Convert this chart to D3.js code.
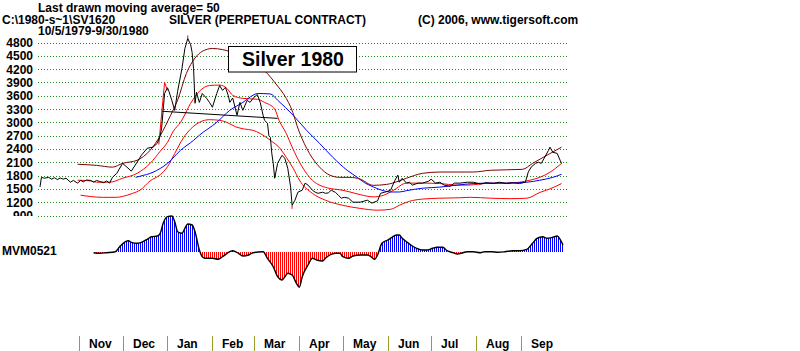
<!DOCTYPE html>
<html>
<head>
<meta charset="utf-8">
<script src="https://cdn.jsdelivr.net/npm/d3@7"></script>
<style>
  html, body { margin: 0; padding: 0; background: #fff; }
  svg { display: block; font-family: "Liberation Sans", Arial, sans-serif; font-weight: bold; }
</style>
</head>
<body>
<div id="chart"></div>
<script>
const startDate = new Date(1979, 9, 5)
const endDate = new Date(1980, 8, 30)

// all series: [calendar days since 10/5/1979, value]
const price = [[0,1545],[1,1760],[3,1740],[6,1760],[8,1720],[10,1750],[12,1710],[14,1745],[16,1720],[18,1740],
  [21,1650],[23,1690],[26,1630],[28,1690],[30,1660],[32,1700],[35,1690],[37,1650],[39,1690],[41,1670],[44,1640],
  [46,1680],[48,1630],[50,1760],[53,1850],[57,2075],[60,1990],[63,1900],[67,2100],[70,2260],[74,2415],[76,2430],
  [78,2440],[81,2530],[83,2700],[84,2890],[85,3270],[86,3650],[88,3780],[89,3700],[91,3495],[93,3270],[95,3700],
  [98,4215],[100,4665],[102,4890],[104,4750],[105,4575],[106,4215],[107,3430],[108,3675],[110,3450],[112,3650],
  [115,3540],[117,3450],[119,3340],[122,3650],[124,3830],[126,3720],[128,3790],[130,3600],[131,3450],[133,3550],
  [136,3160],[138,3450],[140,3270],[143,3495],[145,3450],[147,3540],[150,3630],[152,3450],[154,3160],[155,3045],
  [157,2980],[158,2700],[159,2660],[160,2300],[161,2075],[162,1740],[164,2075],[167,2255],[169,2190],[171,1965],
  [173,1540],[174,1130],[176,1245],[178,1425],[181,1470],[183,1630],[185,1585],[188,1470],[190,1425],[192,1400],
  [195,1425],[197,1400],[199,1410],[201,1470],[204,1420],[206,1355],[208,1290],[210,1310],[213,1290],[216,1200],
  [221,1200],[226,1245],[229,1180],[233,1230],[235,1400],[238,1425],[242,1470],[245,1695],[247,1810],[248,1650],
  [250,1740],[253,1630],[255,1650],[257,1585],[261,1630],[264,1630],[268,1670],[270,1720],[273,1630],[276,1650],
  [279,1585],[283,1560],[286,1630],[290,1630],[295,1650],[299,1650],[304,1610],[308,1640],[313,1620],[317,1650],
  [322,1620],[326,1640],[331,1620],[335,1650],[337,1875],[339,1990],[342,2075],[344,2100],[346,2075],[348,2190],
  [351,2370],[352,2440],[354,2325],[357,2300],[359,2145],[360,2075]]

const ma21 = [[26,1695],[35,1680],[39,1650],[48,1650],[57,1740],[67,1850],[76,2075],[83,2350],[88,2550],[92,2800],
  [97,3000],[104,3430],[110,3700],[117,3830],[124,3840],[129,3765],[133,3610],[140,3540],[150,3520],[155,3450],
  [162,3300],[165,3045],[170,2750],[174,2445],[181,1995],[188,1695],[200,1510],[207,1480],[214,1430],[221,1370],
  [230,1320],[237,1355],[244,1470],[253,1630],[264,1630],[276,1620],[288,1585],[295,1585],[311,1630],[322,1630],
  [331,1650],[338,1695],[345,1760],[352,1875],[360,2075]]

const upperBand = [[26,2055],[39,2030],[50,1990],[57,2075],[67,2145],[76,2370],[83,2700],[90,3150],[95,3500],
  [101,4100],[107,4450],[112,4600],[119,4665],[126,4640],[138,4500],[148,4300],[157,4100],[162,3900],[170,3540],
  [173,3350],[179,2780],[186,2300],[193,1990],[200,1810],[207,1760],[214,1760],[221,1720],[230,1580],[239,1600],
  [248,1680],[253,1740],[264,1850],[276,1880],[288,1880],[299,1880],[311,1920],[333,1940],[340,2075],[350,2260],
  [360,2440]]

const lowerBand = [[28,1358],[43,1310],[53,1310],[57,1330],[64,1400],[69,1470],[76,1680],[83,1820],[88,2000],
  [93,2300],[99,2650],[104,2850],[110,3000],[117,3060],[124,3045],[129,3000],[135,2900],[141,2850],[147,2820],
  [152,2750],[159,2595],[166,2400],[170,2210],[175,1950],[179,1700],[188,1400],[197,1245],[209,1130],[221,1060],
  [233,1020],[242,1040],[248,1130],[255,1220],[264,1270],[276,1290],[290,1300],[297,1310],[311,1290],[325,1280],
  [336,1290],[345,1420],[352,1500],[360,1620]]

const ma50 = [[66,1760],[69,1785],[78,1875],[88,2075],[97,2370],[106,2595],[110,2710],[122,3000],[131,3270],
  [140,3450],[147,3610],[150,3650],[159,3640],[164,3500],[175,3150],[184,2820],[193,2525],[202,2215],[212,1920],
  [219,1760],[224,1640],[230,1545],[235,1480],[242,1430],[248,1430],[253,1460],[264,1515],[276,1540],[288,1585],
  [299,1620],[311,1630],[322,1630],[336,1650],[345,1695],[354,1760],[360,1830]]

const trendLine = [[84,3250],[164,3090]]

// daily high / low showing past the close
const wicks = [
  [[82,2500],[86,3900],[88,3720]],
  [[102,4890],[102,4960]],
  [[174,1130],[174,1050]]
]

const mvm = [[37,-0.7],[41,-1.3],[46,-0.7],[52,0.3],[55,5.3],[59,10.3],[61,11.3],[63,9.7],[67,8.7],[70,9.7],
  [74,12.7],[77,15.3],[81,16],[83,18.7],[85,28.7],[88,35.3],[91,36],[93,30.3],[95,20.3],[98,18.7],[100,23.7],
  [102,28],[105,27],[107,20.3],[110,2],[112,-4.7],[114,-6.3],[119,-6.3],[123,-7.3],[126,-4.7],[131,0.3],[133,1.3],
  [137,-1.3],[140,-4],[144,-3],[147,-0.7],[154,0.3],[157,-6.3],[161,-14.7],[164,-24.7],[167,-28],[169,-24.7],
  [171,-21.3],[174,-23],[177,-31.3],[179,-35.3],[181,-24.7],[185,-13],[188,-6.3],[191,-8],[195,-9],[197,-6.3],
  [200,-3],[204,-1.3],[207,-1.3],[209,-4.7],[213,-6.3],[216,-4],[221,-3],[226,-3],[229,-5.3],[231,-7.3],[233,-3],
  [236,8.7],[240,12],[243,14.7],[246,17],[248,17],[250,13.7],[253,10.3],[256,7],[260,3.7],[264,2],[267,2],
  [271,3.7],[274,4.7],[278,4.7],[281,1.3],[285,-0.7],[288,-2],[292,-0.7],[295,0.3],[299,0.3],[304,-0.7],[307,0.3],
  [312,0.3],[316,-0.3],[321,0.3],[326,1.3],[331,1.3],[336,2.7],[340,8.7],[343,13.7],[347,15.3],[350,13.7],
  [354,14.7],[357,16],[359,12.7],[361,7]]

const yTicks = [4800, 4500, 4200, 3900, 3600, 3300, 3000, 2700, 2400, 2100, 1800, 1500, 1200, 900]
const monthLabels = ['Nov', 'Dec', 'Jan', 'Feb', 'Mar', 'Apr', 'May', 'Jun', 'Jul', 'Aug', 'Sep']

const width = 800
const height = 351

const svg = d3.select('#chart').append('svg')
  .attr('width', width)
  .attr('height', height)

const day = (d) => d3.timeDay.offset(startDate, d)
const x = d3.scaleTime().domain([startDate, endDate]).range([40, 563])
const y = d3.scaleLinear().domain([900, 4800]).range([215.5, 42.5])
const yM = d3.scaleLinear().domain([-40, 40]).range([292, 212])

const defs = svg.append('defs')
defs.append('clipPath').attr('id', 'label-clip')
  .append('rect').attr('x', 0).attr('y', 0).attr('width', 40).attr('height', 216)

// header texts
const header = svg.append('g').style('font-size', '12px')
header.append('text').attr('x', 38).attr('y', 12).text('Last drawn moving average= 50')
header.append('text').attr('x', 2).attr('y', 24).text('C:\\1980-s~1\\SV1620')
header.append('text').attr('x', 169).attr('y', 24).text('SILVER (PERPETUAL CONTRACT)')
header.append('text').attr('x', 418).attr('y', 24).text('(C) 2006, www.tigersoft.com')
header.append('text').attr('x', 38).attr('y', 34.5).text('10/5/1979-9/30/1980')

// grid lines
svg.append('g').selectAll('line')
  .data(yTicks)
  .join('line')
  .attr('x1', 38).attr('x2', 567)
  .attr('y1', (d) => Math.round(y(d)) + 0.5)
  .attr('y2', (d) => Math.round(y(d)) + 0.5)
  .attr('stroke', '#1a8a1a')
  .attr('stroke-dasharray', '1,2')

// y labels (the lowest one gets cut off)
svg.append('g')
  .attr('clip-path', 'url(#label-clip)')
  .selectAll('text')
  .data(yTicks)
  .join('text')
  .attr('x', 33)
  .attr('y', (d) => y(d) + 4.5)
  .attr('text-anchor', 'end')
  .style('font-size', '12px')
  .text((d) => d)

const line = d3.line()
  .x((d) => x(day(d[0])))
  .y((d) => y(d[1]))
const smooth = d3.line()
  .x((d) => x(day(d[0])))
  .y((d) => y(d[1]))
  .curve(d3.curveMonotoneX)

const plot = svg.append('g').attr('fill', 'none')
plot.append('path').attr('d', smooth(lowerBand)).attr('stroke', '#ff0000')
plot.append('path').attr('d', smooth(ma21)).attr('stroke', '#ff0000')
plot.append('path').attr('d', smooth(ma50)).attr('stroke', '#0000ff')
plot.append('path').attr('d', smooth(upperBand)).attr('stroke', '#800000')
plot.append('path').attr('d', line(trendLine)).attr('stroke', '#000')
plot.selectAll('.wick')
  .data(wicks)
  .join('path')
  .classed('wick', true)
  .attr('d', line)
  .attr('stroke', '#ff0000')
plot.append('path').attr('d', line(price)).attr('stroke', '#000')

// title box
const box = svg.append('g')
box.append('rect')
  .attr('x', 228.5).attr('y', 46.5)
  .attr('width', 128).attr('height', 25.5)
  .attr('fill', '#fff')
  .attr('stroke', '#000')
box.append('text')
  .attr('x', 293).attr('y', 66)
  .attr('text-anchor', 'middle')
  .style('font-size', '19.5px')
  .text('Silver 1980')

// MVM indicator
const stripes = (id, color) => {
  defs.append('pattern')
    .attr('id', id)
    .attr('patternUnits', 'userSpaceOnUse')
    .attr('width', 2).attr('height', 4)
    .append('rect')
    .attr('width', 1).attr('height', 4)
    .attr('fill', color)
}
stripes('stripe-blue', '#0000ff')
stripes('stripe-red', '#ff0000')

const base = yM(0)
defs.append('clipPath').attr('id', 'above')
  .append('rect').attr('x', 0).attr('y', 0).attr('width', width).attr('height', base)
defs.append('clipPath').attr('id', 'below')
  .append('rect').attr('x', 0).attr('y', base).attr('width', width).attr('height', height - base)

const area = d3.area()
  .x((d) => x(day(d[0])))
  .y0(base)
  .y1((d) => yM(d[1]))
  .curve(d3.curveMonotoneX)
const mvmLine = d3.line()
  .x((d) => x(day(d[0])))
  .y((d) => yM(d[1]))
  .curve(d3.curveMonotoneX)

svg.append('path').attr('d', area(mvm))
  .attr('fill', 'url(#stripe-blue)')
  .attr('clip-path', 'url(#above)')
svg.append('path').attr('d', area(mvm))
  .attr('fill', 'url(#stripe-red)')
  .attr('clip-path', 'url(#below)')
svg.append('path').attr('d', mvmLine(mvm))
  .attr('fill', 'none')
  .attr('stroke', '#000')
  .attr('stroke-width', 1.4)

svg.append('text')
  .attr('x', 2).attr('y', 255)
  .style('font-size', '12px')
  .text('MVM0521')

// month axis
const monthStarts = d3.timeMonth.range(new Date(1979, 10, 1), new Date(1980, 9, 1))
const months = svg.append('g')
  .selectAll('g')
  .data(monthStarts)
  .join('g')
  .attr('transform', (d) => `translate(${Math.round(x(d)) + 0.5},0)`)
months.append('line')
  .attr('y1', 336).attr('y2', height)
  .attr('stroke', '#9c9c2c')
months.append('text')
  .attr('x', 9.5).attr('y', 348)
  .style('font-size', '12px')
  .text((d, i) => monthLabels[i])
</script>
</body>
</html>
